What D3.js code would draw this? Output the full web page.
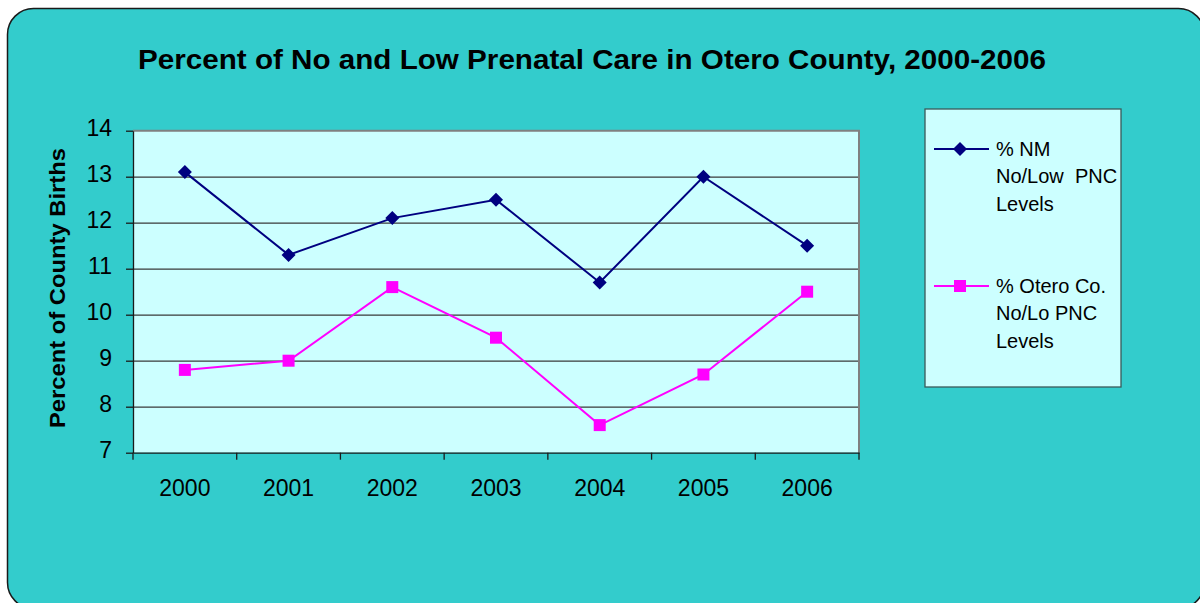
<!DOCTYPE html>
<html>
<head>
<meta charset="utf-8">
<script src="https://cdn.jsdelivr.net/npm/d3@7/dist/d3.min.js"></script>
<style>
  html, body { margin: 0; padding: 0; background: #ffffff; }
  svg { display: block; font-family: "Liberation Sans", Arial, sans-serif; }
</style>
</head>
<body>
<svg id="chart" width="1200" height="603"></svg>
<script>
// Prenatal care data, 2000-2006
const years = ["2000", "2001", "2002", "2003", "2004", "2005", "2006"];
const nmValues = [13.1, 11.3, 12.1, 12.5, 10.7, 13.0, 11.5];
const oteroValues = [8.8, 9.0, 10.6, 9.5, 7.6, 8.7, 10.5];
const yTicks = [7, 8, 9, 10, 11, 12, 13, 14];
const seriesNames = [
  ["% NM", "No/Low  PNC", "Levels"],
  ["% Otero Co.", "No/Lo PNC", "Levels"]
];
const titleText = "Percent of No and Low Prenatal Care in Otero County, 2000-2006";
const yAxisTitle = "Percent of County Births";

const svg = d3.select("#chart");

// Outer chart frame
svg.append("rect")
  .attr("x", 7.5).attr("y", 8.5)
  .attr("width", 1197).attr("height", 600)
  .attr("rx", 26).attr("ry", 26)
  .attr("fill", "#33CCCC")
  .attr("stroke", "#1a1a1a")
  .attr("stroke-width", 1.5);

// Title
svg.append("text")
  .attr("x", 592).attr("y", 68.5)
  .attr("text-anchor", "middle")
  .attr("font-size", 27.5)
  .attr("font-weight", "bold")
  .attr("textLength", 908)
  .attr("lengthAdjust", "spacingAndGlyphs")
  .text(titleText);

const plot = { left: 133, right: 859, top: 130.7, bottom: 452.7 };

const x = d3.scaleBand().domain(years).range([plot.left, plot.right]);
const y = d3.scaleLinear().domain([7, 14]).range([plot.bottom, plot.top]);

// Plot area background
svg.append("rect")
  .attr("x", plot.left).attr("y", plot.top)
  .attr("width", plot.right - plot.left)
  .attr("height", plot.bottom - plot.top)
  .attr("fill", "#CCFFFF");

// Horizontal gridlines
const grid = svg.append("g")
  .attr("transform", `translate(${plot.left},0)`)
  .call(d3.axisLeft(y).tickValues(yTicks.slice(1, -1))
    .tickSize(-(plot.right - plot.left)).tickFormat(""));
grid.select(".domain").remove();
grid.selectAll(".tick line").attr("stroke", "#3a3a3a").attr("stroke-width", 1.3);

// Top and right plot borders
svg.append("path")
  .attr("d", `M${plot.left},${plot.top}H${plot.right}V${plot.bottom}`)
  .attr("fill", "none").attr("stroke", "#808080").attr("stroke-width", 2);

// Y axis
const yAxis = svg.append("g")
  .attr("transform", `translate(${plot.left},0)`)
  .call(d3.axisLeft(y).tickValues(yTicks).tickFormat(d3.format("d"))
    .tickSize(7).tickPadding(14).tickSizeOuter(0));
yAxis.select(".domain").attr("stroke", "#1a1a1a").attr("stroke-width", 1.3);
yAxis.selectAll(".tick line").attr("stroke", "#1a1a1a").attr("stroke-width", 1.3);
yAxis.selectAll(".tick text")
  .attr("font-size", 23).attr("fill", "#000")
  .attr("font-family", "Liberation Sans, Arial, sans-serif")
  .attr("dy", "0.22em");

// X axis: labels centred in bands, ticks on band edges
const xAxis = svg.append("g")
  .attr("transform", `translate(0,${plot.bottom})`)
  .call(d3.axisBottom(x).tickSize(0).tickPadding(27).tickSizeOuter(0));
xAxis.select(".domain").attr("stroke", "#1a1a1a").attr("stroke-width", 1.3);
xAxis.selectAll(".tick text")
  .attr("font-size", 23).attr("fill", "#000")
  .attr("font-family", "Liberation Sans, Arial, sans-serif");
const edges = years.map(d => x(d)).concat([x.range()[1]]);
xAxis.selectAll(".edge")
  .data(edges).join("line")
  .attr("class", "edge")
  .attr("x1", d => d).attr("x2", d => d)
  .attr("y1", 0).attr("y2", 7)
  .attr("stroke", "#1a1a1a").attr("stroke-width", 1.3);

// Y axis title
svg.append("text")
  .attr("transform", "translate(65,288) rotate(-90)")
  .attr("text-anchor", "middle")
  .attr("font-size", 21.5)
  .attr("font-weight", "bold")
  .attr("textLength", 280)
  .attr("lengthAdjust", "spacingAndGlyphs")
  .text(yAxisTitle);

const cx = d => x(d) + x.bandwidth() / 2;
const line = d3.line().x(d => cx(d.year)).y(d => y(d.value));

const series = [
  { values: nmValues, color: "#000080", marker: "diamond" },
  { values: oteroValues, color: "#FF00FF", marker: "square" }
];

function drawMarker(g, type, color) {
  if (type === "diamond") {
    g.append("path").attr("d", "M0,-7L7,0L0,7L-7,0Z").attr("fill", color);
  } else {
    g.append("rect").attr("x", -6).attr("y", -6)
      .attr("width", 12).attr("height", 12).attr("fill", color);
  }
}

series.forEach(s => {
  const pts = years.map((yr, i) => ({ year: yr, value: s.values[i] }));
  svg.append("path")
    .datum(pts)
    .attr("d", line)
    .attr("fill", "none")
    .attr("stroke", s.color)
    .attr("stroke-width", 2);
  pts.forEach(p => {
    const g = svg.append("g").attr("transform", `translate(${cx(p.year)},${y(p.value)})`);
    drawMarker(g, s.marker, s.color);
  });
});

// Legend
const legend = svg.append("g");
legend.append("rect")
  .attr("x", 925).attr("y", 109)
  .attr("width", 196).attr("height", 278)
  .attr("fill", "#CCFFFF")
  .attr("stroke", "#3a5a5a").attr("stroke-width", 1.3);

const legendRows = [149, 286];
series.forEach((s, i) => {
  const ly = legendRows[i];
  legend.append("line")
    .attr("x1", 934).attr("x2", 989)
    .attr("y1", ly).attr("y2", ly)
    .attr("stroke", s.color).attr("stroke-width", 2);
  const g = legend.append("g").attr("transform", `translate(960,${ly})`);
  drawMarker(g, s.marker, s.color);
  const t = legend.append("text")
    .attr("x", 996).attr("y", ly + 6.5)
    .attr("font-size", 20).attr("fill", "#000");
  seriesNames[i].forEach((ln, j) => {
    t.append("tspan").attr("x", 996).attr("dy", j === 0 ? 0 : 27.5)
      .attr("xml:space", "preserve")
      .style("white-space", "pre")
      .text(ln);
  });
});
</script>
</body>
</html>
